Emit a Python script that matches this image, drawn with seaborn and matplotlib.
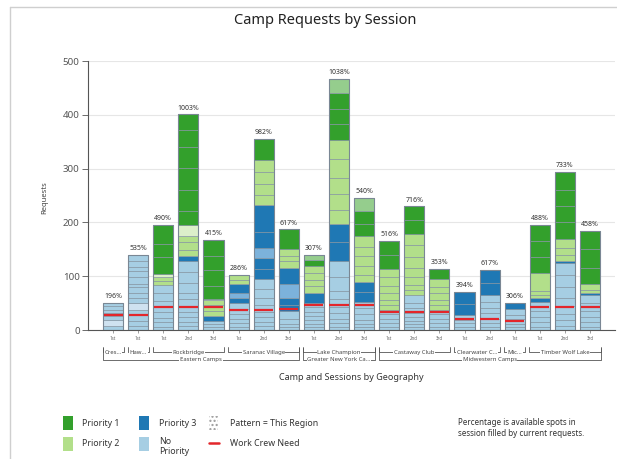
import matplotlib
matplotlib.use("Agg")
import numpy as np
import pandas as pd
import seaborn as sns
import matplotlib.pyplot as plt
import matplotlib.transforms as mtransforms
from matplotlib.patches import Rectangle
from matplotlib.lines import Line2D

# one entry per bar (session), left to right
sessions = ["1st", "1st", "1st", "2nd", "3rd", "1st", "2nd", "3rd", "1st", "2nd",
            "3rd", "1st", "2nd", "3rd", "1st", "2nd", "1st", "1st", "2nd", "3rd"]
camps = ["Cres...", "Haw...", "Rockbridge", "Saranac Village", "Lake Champion",
         "Castaway Club", "Clearwater C...", "Mic...", "Timber Wolf Lake"]
camp_sizes = [1, 1, 3, 3, 3, 3, 2, 1, 3]
regions = ["Eastern Camps", "Greater New York Ca...", "Midwestern Camps"]
region_sizes = [8, 3, 9]

pct_filled = [196, 535, 490, 1003, 415, 286, 982, 617, 307, 1038,
              540, 516, 716, 353, 394, 617, 306, 488, 733, 458]
work_crew = [28, 28, 43, 43, 43, 38, 38, 40, 46, 46,
             46, 34, 34, 34, 20, 20, 16, 42, 42, 42]

# request groups stacked bottom -> top inside each priority block
no_priority = [
    [8, 10, 8, 5, 6, 7, 7],
    [7, 9, 11, 11, 12, 9, 10, 11, 5, 14, 10, 8, 11, 11],
    [6, 8, 9, 10, 9, 12, 14, 15],
    [7, 8, 9, 10, 9, 14, 12, 18, 20, 21],
    [6, 5, 6],
    [6, 7, 8, 9, 10, 11],
    [7, 8, 9, 10, 12, 14, 16, 18],
    [5, 7, 8, 15],
    [5, 6, 7, 8, 8, 8, 9],
    [6, 7, 8, 10, 12, 14, 16, 25, 30],
    [5, 6, 8, 10, 12, 12],
    [6, 7, 8, 8, 9],
    [5, 6, 6, 7, 8, 9, 10, 15],
    [6, 7, 8, 8, 9],
    [6, 7, 6, 8],
    [6, 7, 8, 10, 10, 12, 12],
    [6, 6, 8, 8, 12],
    [6, 8, 10, 12, 16],
    [8, 10, 12, 14, 16, 20, 22, 22],
    [6, 8, 10, 12, 14, 16],
]
priority_3 = [
    [], [], [], [9], [9], [9, 9, 16], [20, 19, 19, 31, 50], [12, 13, 25, 31],
    [18], [35, 35], [18, 18], [], [], [], [22, 22], [23, 24], [10], [7], [4], [3],
]
priority_2 = [
    [], [], [8, 8, 6], [12, 14, 12, 21], [10, 10, 9, 2], [8, 9], [18, 20, 22, 23],
    [12, 10, 12], [12, 12, 13, 13], [25, 30, 30, 35, 35], [14, 16, 18, 18, 20],
    [8, 10, 12, 14, 16, 16], [8, 10, 14, 18, 20, 22, 20], [8, 10, 12, 12, 14],
    [], [], [], [6, 8, 33], [12, 12, 18], [6, 11],
]
priority_1 = [
    [], [], [30, 25, 36], [25, 40, 40, 40, 30, 30], [25, 30, 25, 30], [], [40],
    [37], [11, 9], [30, 28, 30, 26], [22, 25, 23], [25, 26], [26, 26], [20],
    [], [], [], [30, 30, 30], [30, 30, 30, 34], [30, 34, 34],
]
# bar index -> segment index drawn with the "this region" pattern
pale_no_priority = {0: 1, 1: 4}
pale_priority_3 = {5: 1, 6: 2, 7: 2}
pale_priority_2 = {2: 2, 3: 3, 4: 3}
pale_priority_1 = {8: 1, 9: 3, 10: 2}

sns.set_theme(style="white")
plt.rcParams["font.family"] = ["Noto Sans", "DejaVu Sans"]
paired = sns.color_palette("Paired")

fig, ax = plt.subplots(figsize=(6.17, 4.59), dpi=100)
fig.subplots_adjust(left=0.1426, right=0.997, top=0.867, bottom=0.281)

x = np.arange(len(sessions))
totals = [sum(a) + sum(b) + sum(c) + sum(d)
          for a, b, c, d in zip(no_priority, priority_3, priority_2, priority_1)]
bar_df = pd.DataFrame({"bar": x, "total": totals})

sns.barplot(data=bar_df, x="bar", y="total", width=0.8, fill=False, color="#7a8794",
            linewidth=0.8, errorbar=None, zorder=3, ax=ax)
ax.bar_label(ax.containers[0], labels=[f"{p}%" for p in pct_filled], padding=2,
             fontsize=5, color="#333333")

blocks = [
    (no_priority, paired[0], pale_no_priority, "#cfe2f0"),
    (priority_3, paired[1], pale_priority_3, "#7cb2db"),
    (priority_2, paired[2], pale_priority_2, "#dcefca"),
    (priority_1, paired[3], pale_priority_1, "#95cd8d"),
]
for i in x:
    base = 0
    for segs, color, pale, pale_color in blocks:
        for k, h in enumerate(segs[i]):
            c = pale_color if pale.get(i) == k else color
            ax.bar(i, h, bottom=base, width=0.8, color=c, edgecolor="#8393a0",
                   linewidth=0.45, zorder=2)
            base += h

ax.hlines(work_crew, x - 0.38, x + 0.38, color="#e3262b", linewidth=1.6, zorder=4)

ax.set_xlim(-1, 20)
ax.set_ylim(0, 500)
ax.set_yticks(range(0, 501, 100))
ax.yaxis.grid(True, color="#e6e6e6", linewidth=0.8)
ax.set_axisbelow(True)
sns.despine(ax=ax)
for side in ["left", "bottom"]:
    ax.spines[side].set_color("#555555")
    ax.spines[side].set_linewidth(0.8)
ax.tick_params(axis="y", left=True, length=4, width=0.6, color="#555555",
               labelsize=7, labelcolor="#555555", pad=2)
ax.set_xticks(x, sessions)
ax.tick_params(axis="x", bottom=True, length=2, width=0.5, color="#777777",
               labelsize=3.2, labelcolor="#666666", pad=2)
ax.set_xlabel("")
ax.set_ylabel("")

# hierarchical category brackets under the axis
trans = mtransforms.blended_transform_factory(ax.transData, ax.transAxes)


def bracket(start, n, label, y, rise):
    x0, x1 = start - 0.42, start + n - 1 + 0.42
    ax.plot([x0, x0, x1, x1], [y + rise, y, y, y + rise], transform=trans,
            clip_on=False, color="#555555", linewidth=0.6)
    ax.text((x0 + x1) / 2, y, label, transform=trans, ha="center", va="center",
            fontsize=4.3, color="#444444",
            bbox=dict(facecolor="white", edgecolor="none", pad=0.5))


start = 0
for name, n in zip(camps, camp_sizes):
    bracket(start, n, name, -0.082, 0.018)
    start += n
start = 0
for name, n in zip(regions, region_sizes):
    bracket(start, n, name, -0.11, 0.045)
    start += n

ax.text(0.5, -0.175, "Camp and Sessions by Geography", transform=ax.transAxes,
        ha="center", va="center", fontsize=6.5, color="#333333")
fig.text(45 / 617, 1 - 198 / 459, "Requests", rotation=90, ha="center", va="center",
         fontsize=5.5, color="#444444")
fig.text(325 / 617, 1 - 20 / 459, "Camp Requests by Session", ha="center", va="center",
         fontsize=10.5, color="#222222")

# frame lines
fig.add_artist(Line2D([10 / 617, 1], [1 - 7 / 459] * 2, transform=fig.transFigure,
                      color="#cfcfcf", linewidth=1))
fig.add_artist(Line2D([10 / 617] * 2, [0, 1 - 7 / 459], transform=fig.transFigure,
                      color="#cfcfcf", linewidth=1))


# legend
def px(xp, yp):
    return xp / 617, 1 - yp / 459


def swatch(x0, y0, w, h, **kw):
    fig.add_artist(Rectangle(px(x0, y0 + h), w / 617, h / 459,
                             transform=fig.transFigure, **kw))


legend_fs = 6.3
swatch(63, 416, 10, 14, facecolor=paired[3], edgecolor="none")
fig.text(*px(82, 423), "Priority 1", fontsize=legend_fs, va="center", color="#333333")
swatch(63, 437, 10, 14, facecolor=paired[2], edgecolor="none")
fig.text(*px(82, 444), "Priority 2", fontsize=legend_fs, va="center", color="#333333")
swatch(139, 416, 10, 14, facecolor=paired[1], edgecolor="none")
fig.text(*px(159, 423), "Priority 3", fontsize=legend_fs, va="center", color="#333333")
swatch(139, 437, 10, 14, facecolor=paired[0], edgecolor="none")
fig.text(*px(159, 437), "No\nPriority", fontsize=legend_fs, va="top", color="#333333",
         linespacing=1.1)
swatch(209, 416, 9, 14, facecolor="white", edgecolor="#9a9a9a", linewidth=0,
       hatch="....")
fig.text(*px(230, 423), "Pattern = This Region", fontsize=legend_fs, va="center",
         color="#333333")
fig.add_artist(Line2D([209 / 617, 219 / 617], [1 - 443 / 459] * 2,
                      transform=fig.transFigure, color="#e3262b", linewidth=1.8))
fig.text(*px(230, 443), "Work Crew Need", fontsize=legend_fs, va="center",
         color="#333333")
fig.text(*px(458, 428), "Percentage is available spots in\nsession filled by current requests.",
         fontsize=5.8, va="center", color="#333333", linespacing=1.15)

plt.savefig("out.png", dpi=100)
